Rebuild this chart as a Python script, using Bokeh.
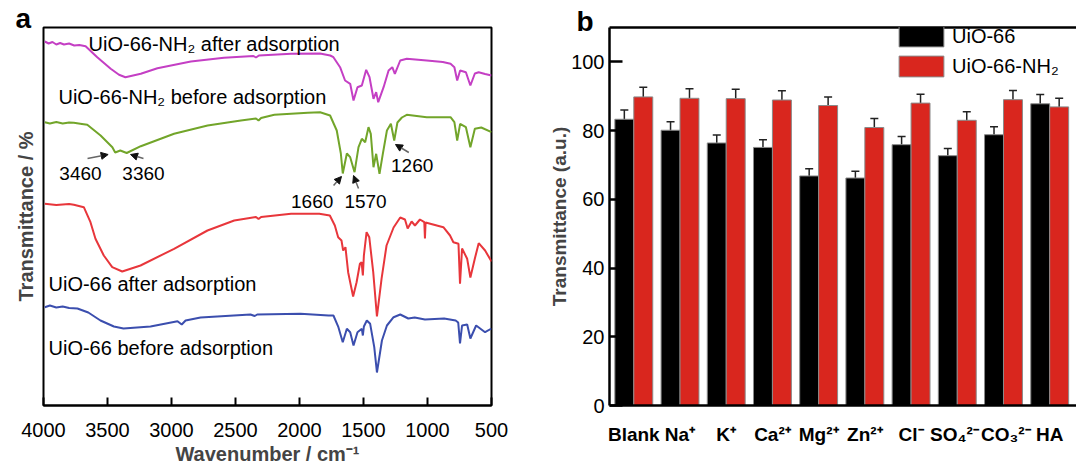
import numpy as np
from bokeh.plotting import figure
from bokeh.layouts import row
from bokeh.models import (Range1d, Arrow, NormalHead, Whisker, TeeHead, Title,
                          ColumnDataSource, Legend, LegendItem, LinearAxis, FixedTicker)
from bokeh.core.properties import value
from bokeh.embed import file_html
from bokeh.resources import INLINE

FONT = "Liberation Sans"

# ---------------- panel a : FTIR spectra (offset transmittance, a.u.) ----------------
nh2_after_wn = [3990, 3960, 3930, 3900, 3870, 3840, 3800, 3760, 3720, 3671, 3580, 3475, 3410, 3360,
                3240, 3110, 2849, 2590, 2360, 2340, 2317, 2066, 1840, 1760, 1735, 1683, 1644, 1604,
                1578, 1547, 1513, 1479, 1453, 1422, 1401, 1385, 1343, 1304, 1275, 1255, 1213, 1162,
                1006, 880, 820, 790, 768, 745, 700, 665, 630, 600, 550, 500]
nh2_after_t = [364, 362, 363.5, 361, 362.5, 361, 362, 360, 360.5, 359.3, 348.3, 336.7, 330.7, 328.3,
               331.7, 337.3, 344, 347.7, 349.5, 348, 350, 351.7, 352, 350, 348.3, 338.3, 325, 321.7,
               305, 318.3, 320, 335.7, 328.3, 306.7, 313.3, 303.3, 318.3, 335, 338.3, 331.7, 345, 346.7,
               345, 343.5, 341.7, 338.3, 325, 335, 333.3, 320, 332, 333.3, 331.5, 330]

nh2_before_wn = [3990, 3950, 3900, 3850, 3800, 3763, 3700, 3658, 3554, 3462, 3440, 3400, 3350, 3240,
                 2980, 2718, 2458, 2340, 2320, 2300, 2197, 1935, 1839, 1761, 1709, 1677, 1662, 1630,
                 1604, 1570, 1539, 1513, 1487, 1461, 1443, 1422, 1401, 1375, 1349, 1317, 1286, 1260,
                 1235, 1200, 1162, 1006, 820, 790, 768, 745, 700, 665, 630, 580, 500]
nh2_before_t = [283.3, 282, 283.5, 282, 283, 282.7, 281.5, 280.7, 270, 258.3, 253, 255, 252.5, 259.3,
                271.7, 280, 285, 287, 285, 287.5, 290.7, 292.7, 293.3, 290, 275, 252, 232, 252,
                248.3, 233.3, 258.3, 266.7, 263.3, 278.3, 271.7, 238.3, 251.7, 231.7, 251.7, 275, 281.7, 265,
                283, 288, 290.7, 288.3, 288.3, 283.3, 265, 281.7, 278.3, 258.3, 276.7, 278, 273.3]

uio_after_wn = [3990, 3900, 3800, 3763, 3685, 3633, 3594, 3529, 3463, 3385, 3242, 2980, 2719, 2510,
                2340, 2320, 2300, 2066, 1845, 1763, 1724, 1698, 1672, 1659, 1641, 1620, 1581, 1554,
                1528, 1515, 1505, 1497, 1476, 1455, 1424, 1395, 1359, 1320, 1265, 1213, 1176, 1155,
                1124, 1098, 1059, 1025, 1020, 1015, 876, 824, 798, 758, 746, 730, 690, 665, 630, 600,
                550, 500]
uio_after_t = [201.7, 200.5, 201.5, 200.7, 198.3, 183.3, 166.7, 150, 138.3, 134, 140, 156.7, 175, 185,
               188.5, 186.5, 188.5, 191.7, 191.7, 190, 180, 168.3, 165, 155, 158.3, 133.3, 109, 123.3,
               141.7, 143.3, 130, 150, 173.3, 168.3, 133.3, 89, 126.7, 160, 178, 188, 186, 177,
               184, 180, 186, 183.3, 167, 183, 178.3, 170, 163.3, 161.7, 121.7, 157, 146.7, 128, 147, 162.3,
               155, 144]

uio_before_wn = [3990, 3950, 3900, 3850, 3800, 3735, 3650, 3555, 3450, 3375, 3164, 2953, 2920, 2890,
                 2773, 2383, 2350, 2330, 1992, 1773, 1735, 1696, 1662, 1630, 1604, 1578, 1547, 1513,
                 1505, 1497, 1474, 1448, 1416, 1395, 1356, 1317, 1265, 1213, 1150, 1100, 1020, 870,
                 780, 760, 746, 730, 690, 665, 620, 550, 500]
uio_before_t = [98.3, 100, 98, 99, 97.5, 97, 93, 85, 79, 77, 79, 84.3, 81, 85,
                88, 91, 89.5, 91, 91.7, 90, 90, 78.3, 63.3, 76.7, 73.3, 60, 73.3, 76.7,
                70, 79, 85, 81.7, 58.3, 33, 65, 80, 88.3, 91, 87, 88, 86, 87,
                85, 83, 62, 80, 81, 67, 80, 73.3, 77]

curve_labels = ["UiO-66-NH\u2082 after adsorption", "UiO-66-NH\u2082 before adsorption",
                "UiO-66 after adsorption", "UiO-66 before adsorption"]
curve_label_wn = [3648, 3883, 3961, 3961]
curve_label_t = [362, 309, 122, 58]

peak_labels = ["3460", "3360", "1660", "1570", "1260"]
peak_label_wn = [3711, 3219, 1901, 1484, 1120]
peak_label_t = [232, 232, 204, 204, 240]
arrow_tail_wn = [3656, 3219, 1734, 1539, 1146]
arrow_tail_t = [247, 247, 220, 217, 253]
arrow_head_wn = [3495, 3320, 1672, 1578, 1250]
arrow_head_t = [251, 251, 229, 230, 261]

colors_a = ["#c43fc4", "#72a52a", "#e8363b", "#3b4eae"]

# ---------------- panel b : bar chart ----------------
ions = ["Blank", "Na\u207a", "K\u207a", "Ca\u00b2\u207a", "Mg\u00b2\u207a", "Zn\u00b2\u207a",
        "Cl\u207b", "SO\u2084\u00b2\u207b", "CO\u2083\u00b2\u207b", "HA"]
# small label nudges so the two long anion labels do not collide
label_nudge = [0, 0, 0, 0, 0, 0, 0, -0.06, 0.05, 0]
uio66 = [83.3, 80.1, 76.4, 75.1, 66.8, 66.2, 75.9, 72.7, 78.8, 87.8]
uio66_err = [2.7, 2.5, 2.3, 2.2, 2.1, 2.0, 2.4, 2.1, 2.3, 2.7]
uio66nh2 = [89.8, 89.4, 89.3, 88.9, 87.3, 80.9, 88.0, 83.0, 89.0, 86.9]
uio66nh2_err = [2.8, 2.8, 2.7, 2.7, 2.5, 2.6, 2.6, 2.5, 2.7, 2.5]

# ================= build panel a =================
p1 = figure(width=540, height=467, output_backend="svg", toolbar_location=None,
            x_range=Range1d(4000, 500), y_range=Range1d(0, 378),
            min_border_left=43, min_border_right=49, min_border_top=27, min_border_bottom=62,
            title=Title(text="a", align="left", offset=-28, standoff=-12, text_font=FONT,
                        text_font_size="28px", text_font_style="bold", text_color="black"))
p1.outline_line_color = "black"
p1.outline_line_width = 2
p1.grid.visible = False

series = [(nh2_after_wn, nh2_after_t), (nh2_before_wn, nh2_before_t),
          (uio_after_wn, uio_after_t), (uio_before_wn, uio_before_t)]
for (wn, t), c in zip(series, colors_a):
    p1.line(wn, t, line_color=c, line_width=2)

p1.text(x=curve_label_wn, y=curve_label_t, text=curve_labels, text_font=value(FONT),
        text_font_size="20px", text_baseline="middle", text_align="left", text_color="black")
p1.text(x=peak_label_wn, y=peak_label_t, text=peak_labels, text_font=value(FONT),
        text_font_size="19px", text_baseline="middle", text_align="center", text_color="black")
for xs, ys, xe, ye in zip(arrow_tail_wn, arrow_tail_t, arrow_head_wn, arrow_head_t):
    p1.add_layout(Arrow(x_start=xs, y_start=ys, x_end=xe, y_end=ye, line_color="#666666",
                        line_width=1.5, end=NormalHead(size=7, fill_color="#111111",
                                                       line_color="#111111")))

xa = p1.xaxis[0]
xa.ticker = FixedTicker(ticks=[4000, 3500, 3000, 2500, 2000, 1500, 1000, 500])
xa.major_tick_in = 8
xa.major_tick_out = 0
xa.minor_tick_line_color = None
xa.major_tick_line_width = 2
xa.axis_line_width = 2
xa.major_label_text_font = FONT
xa.major_label_text_font_size = "20px"
xa.major_label_text_color = "black"
xa.major_label_standoff = 17
xa.axis_label = "Wavenumber / cm\u207b\u00b9"
xa.axis_label_text_font = FONT
xa.axis_label_text_font_size = "20px"
xa.axis_label_text_font_style = "bold"
xa.axis_label_standoff = 3

ya = p1.yaxis[0]
ya.ticker = FixedTicker(ticks=[])
ya.axis_line_color = None
ya.major_tick_line_color = None
ya.minor_tick_line_color = None
ya.axis_label = "Transmittance / %"
ya.axis_label_text_font = FONT
ya.axis_label_text_font_size = "20px"
ya.axis_label_text_font_style = "bold"
ya.axis_label_standoff = 7

# ================= build panel b =================
idx = np.arange(len(ions))
p2 = figure(width=536, height=467, output_backend="svg", toolbar_location=None,
            x_range=Range1d(-0.526, 9.58), y_range=Range1d(0, 110),
            min_border_left=69, min_border_right=0, min_border_top=27, min_border_bottom=58,
            title=Title(text="b", align="left", offset=-33, standoff=-18, text_font=FONT,
                        text_font_size="28px", text_font_style="bold", text_color="black"))
p2.outline_line_color = None
p2.grid.visible = False

src = ColumnDataSource(dict(
    xb=idx - 0.205, xr=idx + 0.205, b=uio66, r=uio66nh2,
    bu=np.array(uio66) + np.array(uio66_err), bl=np.array(uio66) - np.array(uio66_err),
    ru=np.array(uio66nh2) + np.array(uio66nh2_err), rl=np.array(uio66nh2) - np.array(uio66nh2_err)))

rb = p2.vbar(x="xb", top="b", width=0.41, source=src, fill_color="black",
             line_color="#8a8a8a", line_width=1)
rr = p2.vbar(x="xr", top="r", width=0.41, source=src, fill_color="#d9261e",
             line_color="#8a8a8a", line_width=1)
for base, up, lo in [("xb", "bu", "bl"), ("xr", "ru", "rl")]:
    p2.add_layout(Whisker(base=base, upper=up, lower=lo, source=src, line_color="#222222",
                          line_width=1.5,
                          upper_head=TeeHead(size=8, line_color="#222222", line_width=1.5),
                          lower_head=TeeHead(size=8, line_color="#222222", line_width=1.5)))

tick_pos = [float(i) + d for i, d in zip(idx, label_nudge)]
bx = p2.xaxis[0]
bx.ticker = FixedTicker(ticks=tick_pos)
bx.major_label_overrides = {t: lab for t, lab in zip(tick_pos, ions)}
bx.major_tick_line_color = None
bx.minor_tick_line_color = None
bx.axis_line_width = 2.5
bx.major_label_text_font = FONT
bx.major_label_text_font_size = "19px"
bx.major_label_text_font_style = "bold"
bx.major_label_text_color = "black"
bx.major_label_standoff = 12

by = p2.yaxis[0]
by.ticker = FixedTicker(ticks=[0, 20, 40, 60, 80, 100])
by.major_tick_in = 13
by.major_tick_out = 0
by.major_tick_line_width = 2.5
by.minor_tick_line_color = None
by.axis_line_width = 2.5
by.major_label_text_font = FONT
by.major_label_text_font_size = "20px"
by.major_label_text_color = "black"
by.major_label_standoff = 5
by.axis_label = "Transmittance (a.u.)"
by.axis_label_text_font = FONT
by.axis_label_text_font_size = "19px"
by.axis_label_text_font_style = "bold"
by.axis_label_standoff = -2

top = LinearAxis(ticker=FixedTicker(ticks=[]), axis_line_width=2.5,
                 major_tick_line_color=None, minor_tick_line_color=None)
p2.add_layout(top, "above")

legend = Legend(items=[LegendItem(label="UiO-66", renderers=[rb]),
                       LegendItem(label="UiO-66-NH\u2082", renderers=[rr])],
                location=(284, 326), glyph_width=56, glyph_height=26, label_height=26,
                spacing=4, padding=0, margin=0, border_line_color=None,
                background_fill_alpha=0, label_text_font=FONT, label_text_font_size="20px",
                label_text_color="black", label_standoff=3)
p2.add_layout(legend)

layout = row(p1, p2, spacing=0)
open("out.html", "w").write(file_html(layout, INLINE))
